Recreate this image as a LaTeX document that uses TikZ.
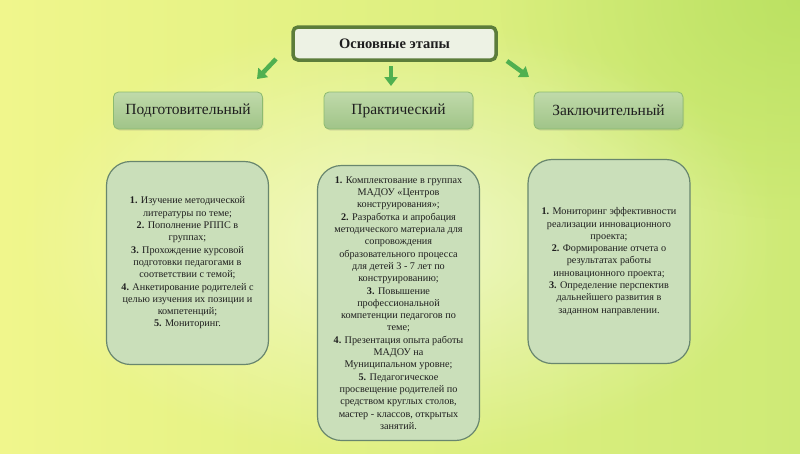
\documentclass[tikz,border=0pt]{standalone}
\usepackage{fontspec}
\setmainfont{Liberation Serif}
\usetikzlibrary{positioning,shadows,fadings,arrows.meta}

\definecolor{bgyellow}{RGB}{240,246,140}
\definecolor{bggreen}{RGB}{206,234,118}
\definecolor{bgcorner}{RGB}{180,222,90}
\definecolor{titleline}{RGB}{92,125,58}
\definecolor{titlefill}{RGB}{237,242,228}
\definecolor{stagetop}{RGB}{192,218,170}
\definecolor{stagebot}{RGB}{160,196,136}
\definecolor{stageline}{RGB}{140,186,112}
\definecolor{listfill}{RGB}{202,223,186}
\definecolor{listline}{RGB}{104,134,110}
\definecolor{arrowgreen}{RGB}{80,176,80}

\tikzfading[name=glow, inner color=transparent!0, outer color=transparent!100]

\begin{document}
\begin{tikzpicture}[x=1pt, y=-1pt
    , every node/.style={inner sep=2pt, text=black!88}
    , titlebox/.style={draw=titleline, line width=3.5pt, fill=titlefill,
        rounded corners=5pt, minimum width=203pt, minimum height=33pt,
        font=\fontsize{14.5}{17}\selectfont\bfseries}
    , stagebox/.style={draw=stageline, line width=0.8pt, top color=stagetop,
        bottom color=stagebot, rounded corners=5pt, minimum width=149pt,
        minimum height=37pt, font=\fontsize{15.5}{18}\selectfont,
        drop shadow={opacity=0.2, shadow xshift=1pt, shadow yshift=-1.5pt}}
    , listbox/.style={draw=listline, line width=1.2pt, fill=listfill,
        rounded corners=24pt, minimum width=162pt, align=center,
        font=\fontsize{10.2}{12.3}\selectfont}
    , stagearrow/.style={draw=arrowgreen, line width=4.5pt,
        -{Triangle[length=9pt, width=13pt]}}
]
    \useasboundingbox (0,0) rectangle (800,453);

    % Background.
    \shade[left color=bgyellow, right color=bggreen] (0,0) rectangle (800,453);
    \fill[bgcorner, opacity=0.7, path fading=glow]
        (800,0) ellipse [x radius=300, y radius=220];
    \fill[white, opacity=0.55, path fading=glow]
        (400,240) ellipse [x radius=380, y radius=220];

    % Title.
    \node[titlebox] (stages) at (394.5,43.5) {Основные этапы};

    % Stages.
    \foreach \name/\x/\label in {prep/188/Подготовительный,
                                 prac/398.5/Практический,
                                 final/608.5/Заключительный}
        \node[stagebox] (\name) at (\x,110.5) {\label};

    % Arrows.
    \coordinate (prep arrow top) at (276,59);
    \coordinate (prep arrow tip) at (257,79);
    \coordinate (prac arrow top) at (391,66);
    \coordinate (prac arrow tip) at (391,86);
    \coordinate (final arrow top) at (507,61);
    \coordinate (final arrow tip) at (529,77);
    \foreach \name in {prep,prac,final}
        \draw[stagearrow] (\name\space arrow top) -- (\name\space arrow tip);

    % Lists.
    \node[listbox, minimum height=203pt] (prep list) at (187.5,263)
        {\textbf{1.} Изучение методической\\ литературы по теме;\\
         \textbf{2.} Пополнение РППС в\\ группах;\\
         \textbf{3.} Прохождение курсовой\\ подготовки педагогами в\\
         соответствии с темой;\\
         \textbf{4.} Анкетирование родителей с\\ целью изучения их позиции и\\
         компетенций;\\
         \textbf{5.} Мониторинг.};

    \node[listbox, minimum height=275pt] (prac list) at (398.5,303)
        {\textbf{1.} Комплектование в группах\\ МАДОУ «Центров\\
         конструирования»;\\
         \textbf{2.} Разработка и апробация\\ методического материала для\\
         сопровождения\\ образовательного процесса\\ для детей 3 - 7 лет по\\
         конструированию;\\
         \textbf{3.} Повышение\\ профессиональной\\ компетенции педагогов по\\
         теме;\\
         \textbf{4.} Презентация опыта работы\\ МАДОУ на\\
         Муниципальном уровне;\\
         \textbf{5.} Педагогическое\\ просвещение родителей по\\
         средством круглых столов,\\ мастер - классов, открытых\\
         занятий.};

    \node[listbox, minimum height=204pt] (final list) at (609,261.5)
        {\textbf{1.} Мониторинг эффективности\\ реализации инновационного\\
         проекта;\\
         \textbf{2.} Формирование отчета о\\ результатах работы\\
         инновационного проекта;\\
         \textbf{3.} Определение перспектив\\ дальнейшего развития в\\
         заданном направлении.};

\end{tikzpicture}
\end{document}
